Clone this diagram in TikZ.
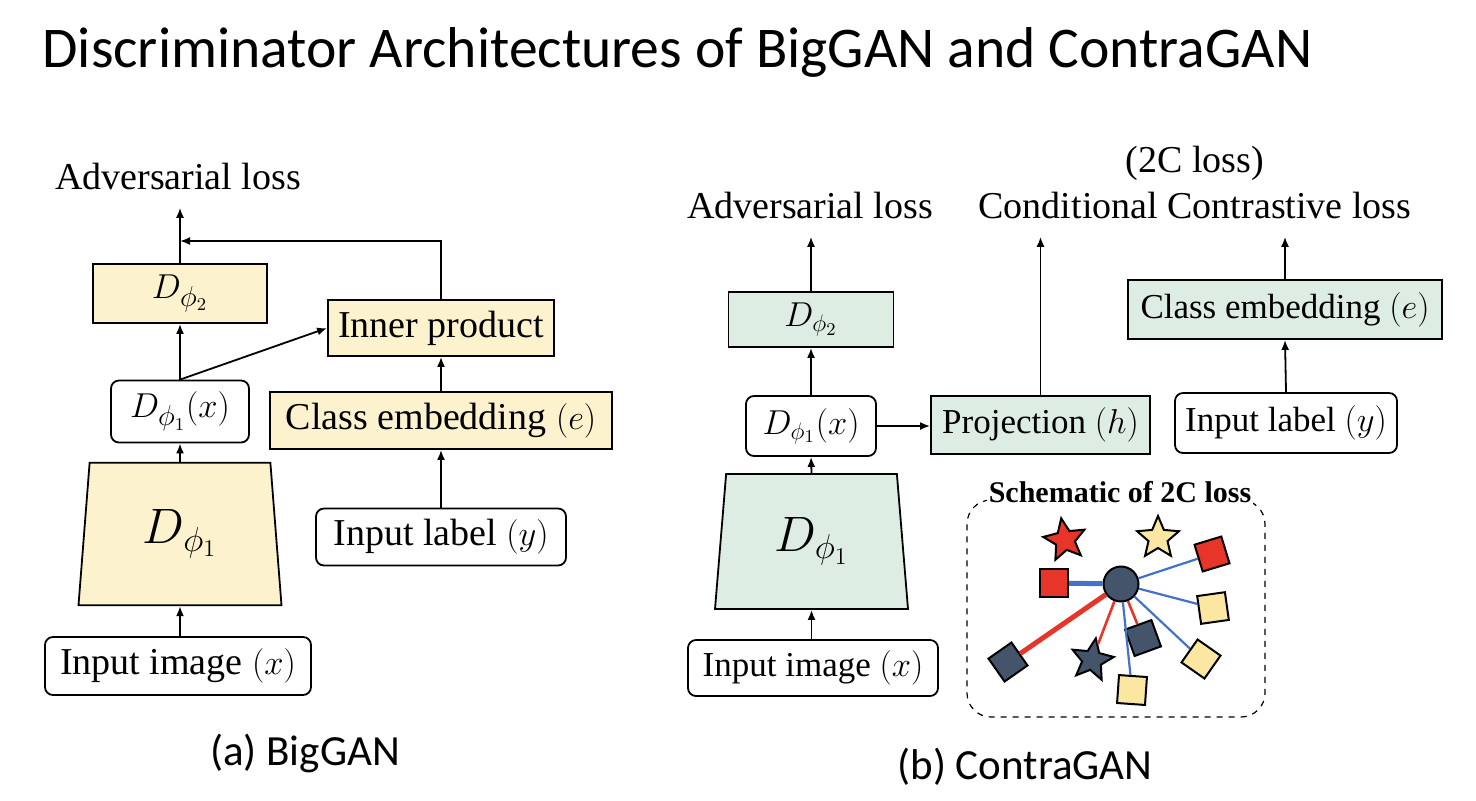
\documentclass[tikz,border=0pt]{standalone}
\usepackage{fontspec}
\setmainfont{Liberation Serif}
\newfontfamily\calibrifont{Carlito}
\usetikzlibrary{arrows.meta,shapes.geometric}

\definecolor{bgyellow}{HTML}{FDF2CE}
\definecolor{bggreen}{HTML}{DEEDE3}
\definecolor{schred}{HTML}{E8352A}
\definecolor{schnavy}{HTML}{44546A}
\definecolor{schyellow}{HTML}{FBE6A2}
\definecolor{schblue}{HTML}{4472C4}

\begin{document}
\begin{tikzpicture}[x=0.5pt, y=-0.5pt,
  lbl/.style={font=\fontsize{19}{22}\selectfont, inner sep=0pt, inner ysep=9pt},
  blk/.style={draw, line width=0.9pt, inner sep=0pt, font=\fontsize{19}{22}\selectfont},
  sm/.style={font=\fontsize{17.5}{20}\selectfont},
  yel/.style={blk, fill=bgyellow},
  grn/.style={blk, sm, fill=bggreen},
  rnd/.style={blk, fill=white, rounded corners=4pt},
  trap/.style={draw, line width=0.9pt, trapezium, trapezium stretches body,
    trapezium angle=77, inner sep=0pt, font=\fontsize{23}{27}\selectfont},
  arr/.style={line width=0.9pt, -{Latex[length=5pt,width=4pt]}},
  sq/.style={draw, line width=1pt, minimum size=14pt, inner sep=0pt},
  st/.style={draw, line width=1pt, star, star points=5, star point ratio=2.2,
    minimum size=22pt, inner sep=0pt}]
\useasboundingbox (0,0) rectangle (1476,800);

\node[font=\calibrifont\fontsize{28.8}{34}\selectfont, anchor=base west, inner sep=0pt]
  (title) at (42,67) {Discriminator Architectures of BigGAN and ContraGAN};

% (a) BigGAN
\node[lbl, anchor=base] (advL) at (178,189) {Adversarial loss};
\node[yel, minimum width=87pt, minimum height=29.5pt] (d2L) at (180,293.5) {$D_{\phi_2}$};
\node[yel, minimum width=113pt, minimum height=28pt] (ipL) at (441,328) {Inner product};
\node[rnd, minimum width=69pt, minimum height=31pt] (d1xL) at (180,411.5) {$D_{\phi_1}(x)$};
\node[yel, minimum width=171pt, minimum height=28.5pt] (ceL) at (441,420.5) {Class embedding $(e)$};
\node[trap, fill=bgyellow, minimum width=101.5pt, minimum height=71.25pt] (trL) at (180,534) {$D_{\phi_1}$};
\node[rnd, minimum width=125pt, minimum height=28.5pt] (ilL) at (441,537) {Input label $(y)$};
\node[rnd, minimum width=133pt, minimum height=29pt] (iiL) at (178,666) {Input image $(x)$};
\coordinate (jL) at (180,241);
\node[font=\calibrifont\fontsize{21.5}{26}\selectfont] (capA) at (305,753) {(a) BigGAN};

\draw[arr] (trL.south |- iiL.north) -- (trL.south);
\draw[arr] (trL.north) -- (d1xL.south);
\draw[arr] (d1xL.north) -- (d2L.south);
\draw[arr] (d1xL.north) -- (ipL.west);
\draw[arr] (d2L.north) -- (d2L.north |- advL.south);
\draw[arr] (ipL.north) |- (jL);
\draw[arr] (ilL.north) -- (ceL.south);
\draw[arr] (ceL.north) -- (ipL.south);

% (b) ContraGAN
\node[lbl, anchor=base] (tcR) at (1195,172) {(2C loss)};
\node[lbl, anchor=base] (advR) at (810,218) {Adversarial loss};
\node[lbl, anchor=base] (cclR) at (1195,218) {Conditional Contrastive loss};
\node[grn, minimum width=82.5pt, minimum height=27.5pt] (d2R) at (811,319.5) {$D_{\phi_2}$};
\node[grn, minimum width=157pt, minimum height=29.5pt] (ceR) at (1285,309.5) {Class embedding $(e)$};
\node[rnd, sm, minimum width=65pt, minimum height=30pt] (d1xR) at (811,426) {$D_{\phi_1}(x)$};
\node[grn, minimum width=109.5pt, minimum height=29pt] (prR) at (1040.5,425) {Projection $(h)$};
\node[rnd, sm, minimum width=111pt, minimum height=30pt] (ilR) at (1286,423) {Input label $(y)$};
\node[trap, fill=bggreen, minimum width=96.5pt, minimum height=67.5pt] (trR) at (811.5,541.5) {$D_{\phi_1}$};
\node[rnd, sm, minimum width=125pt, minimum height=28pt] (iiR) at (813,668) {Input image $(x)$};
\node[font=\calibrifont\fontsize{21.5}{26}\selectfont] (capB) at (1025,767) {(b) ContraGAN};

\draw[arr] (trR.south |- iiR.north) -- (trR.south);
\draw[arr] (trR.north) -- (d1xR.south);
\draw[arr] (d1xR.north) -- (d2R.south);
\draw[arr] (d2R.north) -- (d2R.north |- advR.south);
\draw[arr] (d1xR.east) -- (d1xR.east -| prR.west);
\draw[arr] (prR.north) -- (prR.north |- cclR.south);
\draw[arr] (ilR.north) -- (ceR.south);
\draw[arr] (ceR.north) -- (ceR.north |- cclR.south);

% schematic of 2C loss
\node[draw, dashed, line width=0.6pt, rounded corners=12pt, minimum width=149pt,
  minimum height=108.5pt, inner sep=0pt] (schbox) at (1116,608.5) {};
\node[fill=white, font=\bfseries\fontsize{15}{18}\selectfont, inner sep=1pt] (schtitle) at (1120,492) {Schematic of 2C loss};
\node[draw, circle, fill=schnavy, minimum size=17.5pt, line width=1pt, inner sep=0pt] (anc) at (1121,584) {};
\node[sq, fill=schred] (p1) at (1054,583) {};
\node[sq, fill=schnavy, rotate=20] (p2) at (1143,638) {};
\node[st, fill=schnavy, rotate=-10] (p3) at (1092,660) {};
\node[sq, fill=schnavy, rotate=35] (p4) at (1008,662) {};
\node[sq, fill=schred, rotate=17] (n1) at (1212,554) {};
\node[sq, fill=schyellow, rotate=8] (n2) at (1213,608) {};
\node[sq, fill=schyellow, rotate=-35] (n3) at (1201,659) {};
\node[sq, fill=schyellow, rotate=-4] (n4) at (1132,690) {};
\node[st, fill=schred, rotate=10] (n5) at (1065,540) {};
\node[st, fill=schyellow] (n6) at (1158,538) {};

\draw[line width=2.5pt, schblue] (anc) -- (p1);
\draw[line width=1.1pt, schblue] (anc) -- (n1) (anc) -- (n2) (anc) -- (n3) (anc) -- (n4);
\draw[line width=1.3pt, schred] (anc) -- (p2) (anc) -- (p3);
\draw[line width=2.5pt, schred] (anc) -- (p4);
\end{tikzpicture}
\end{document}
